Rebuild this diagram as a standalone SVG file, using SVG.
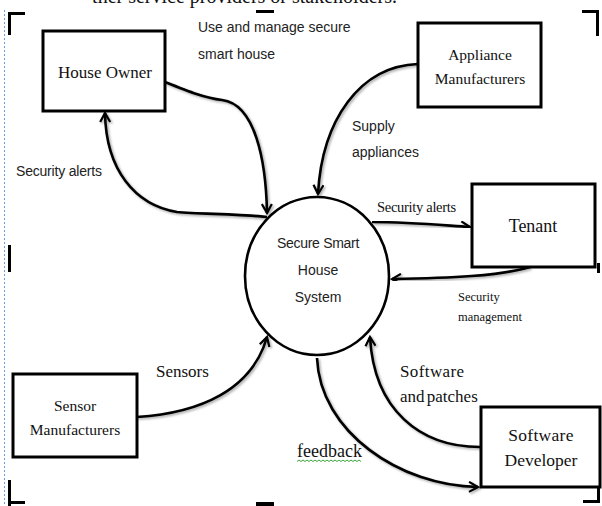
<svg xmlns="http://www.w3.org/2000/svg" width="602" height="506" viewBox="0 0 602 506">
  <style>
    .box { fill: #fff; stroke: #000; stroke-width: 3; }
    .node-label { font-family: "Liberation Serif", "Times New Roman", serif; fill: #111; text-anchor: middle; }
    .sans { font-family: "Liberation Sans", Arial, sans-serif; fill: #222; }
    .serif { font-family: "Liberation Serif", "Times New Roman", serif; fill: #111; }
    .flow { fill: none; stroke: #000; stroke-width: 2.6; filter: url(#shade); }
    .crop { fill: #000; }
  </style>
  <defs>
    <marker id="arrow" viewBox="0 0 12 12" refX="10" refY="6" markerWidth="12" markerHeight="12" markerUnits="userSpaceOnUse" orient="auto">
      <path d="M1,1 L10,6 L1,11" fill="none" stroke="#000" stroke-width="2.2"/>
    </marker>
    <filter id="shade" x="-10%" y="-10%" width="120%" height="120%">
      <feDropShadow dx="1.5" dy="1.5" stdDeviation="1.2" flood-color="#000" flood-opacity="0.35"/>
    </filter>
  </defs>

  <rect width="602" height="506" fill="#fff"/>

  <!-- page text running off the top edge -->
  <text class="serif" x="397" y="3" font-size="20" text-anchor="end">ther service providers or stakeholders.</text>

  <!-- text boundary guide -->
  <line x1="4.5" y1="10" x2="4.5" y2="506" stroke="#6a9ae6" stroke-width="1" stroke-dasharray="2,2"/>

  <!-- crop marks -->
  <g id="crop-marks">
    <rect class="crop" x="8" y="12" width="17" height="3"/>
    <rect class="crop" x="8" y="12" width="3" height="23"/>
    <rect class="crop" x="256" y="10" width="18" height="3"/>
    <rect class="crop" x="582" y="10" width="17" height="3"/>
    <rect class="crop" x="596" y="10" width="3" height="26"/>
    <rect class="crop" x="8" y="245" width="3" height="27"/>
    <rect class="crop" x="597" y="263" width="3" height="10"/>
    <rect class="crop" x="8" y="480" width="3" height="26"/>
    <rect class="crop" x="8" y="501" width="17" height="3"/>
    <rect class="crop" x="256" y="502" width="18" height="4"/>
    <rect class="crop" x="597" y="488" width="3" height="14"/>
    <rect class="crop" x="583" y="500" width="17" height="3"/>
  </g>

  <!-- connectors -->
  <g id="connectors">
    <path class="flow" d="M165,82 C190,92 205,98 222,100 C255,104 266,160 267,213" marker-end="url(#arrow)"/>
    <path class="flow" d="M267,217 C240,214 200,214 177,212 C135,205 106,170 105,113" marker-end="url(#arrow)"/>
    <path class="flow" d="M418,64 C360,66 322,120 318,194" marker-end="url(#arrow)"/>
    <path class="flow" d="M372,222 C410,222 440,225 470,227" marker-end="url(#arrow)"/>
    <path class="flow" d="M530,267 C500,276 450,278 392,279" marker-end="url(#arrow)"/>
    <path class="flow" d="M137,417 C200,413 252,390 267,337" marker-end="url(#arrow)"/>
    <path class="flow" d="M480,447 C420,447 374,410 370,337" marker-end="url(#arrow)"/>
    <path class="flow" d="M317,358 C320,432 400,486 478,487" marker-end="url(#arrow)"/>
  </g>

  <!-- connector labels -->
  <g id="labels">
    <text class="sans" x="198" y="32" font-size="14">Use and manage secure</text>
    <text class="sans" x="198" y="59" font-size="14">smart house</text>
    <text class="sans" x="352" y="131" font-size="14">Supply</text>
    <text class="sans" x="352" y="157" font-size="14">appliances</text>
    <text class="sans" x="16" y="176" font-size="14" letter-spacing="-0.2">Security alerts</text>
    <text class="serif" x="377" y="212" font-size="14.5" letter-spacing="-0.3">Security alerts</text>
    <text class="serif" x="458" y="301" font-size="12.5">Security</text>
    <text class="serif" x="458" y="321" font-size="12.5">management</text>
    <text class="serif" x="156" y="377" font-size="17">Sensors</text>
    <text class="serif" x="400" y="377" font-size="17" letter-spacing="0.4">Software</text>
    <text class="serif" x="400" y="402" font-size="17" word-spacing="-2">and patches</text>
    <text class="serif" x="297" y="457" font-size="18">feedback</text>
    <path d="M297,461.5 l2,-1.5 l2,1.5 l2,-1.5 l2,1.5 l2,-1.5 l2,1.5 l2,-1.5 l2,1.5 l2,-1.5 l2,1.5 l2,-1.5 l2,1.5 l2,-1.5 l2,1.5 l2,-1.5 l2,1.5 l2,-1.5 l2,1.5 l2,-1.5 l2,1.5 l2,-1.5 l2,1.5 l2,-1.5 l2,1.5 l2,-1.5 l2,1.5 l2,-1.5 l2,1.5 l2,-1.5 l2,1.5 l2,-1.5 l2,1.5" fill="none" stroke="#3aa53a" stroke-width="1"/>
  </g>

  <!-- nodes -->
  <g id="house-owner">
    <rect class="box" x="43" y="31" width="122" height="80"/>
    <text class="node-label" x="105" y="78" font-size="17">House Owner</text>
  </g>

  <g id="appliance-manufacturers">
    <rect class="box" x="418" y="23" width="123" height="84"/>
    <text class="node-label" x="480" y="60" font-size="15.5">Appliance</text>
    <text class="node-label" x="480" y="84" font-size="15.5">Manufacturers</text>
  </g>

  <g id="tenant">
    <rect class="box" x="472" y="184" width="123" height="83"/>
    <text class="node-label" x="533" y="232" font-size="18">Tenant</text>
  </g>

  <g id="system">
    <ellipse cx="317" cy="276" rx="72" ry="79" fill="#fff" stroke="#000" stroke-width="2.6"/>
    <text class="sans" x="318" y="248" font-size="14" text-anchor="middle" letter-spacing="-0.3">Secure Smart</text>
    <text class="sans" x="318" y="275" font-size="14" text-anchor="middle">House</text>
    <text class="sans" x="318" y="302" font-size="14" text-anchor="middle">System</text>
  </g>

  <g id="sensor-manufacturers">
    <rect class="box" x="13" y="374" width="124" height="83"/>
    <text class="node-label" x="75" y="411" font-size="15.5">Sensor</text>
    <text class="node-label" x="75" y="435" font-size="15.5">Manufacturers</text>
  </g>

  <g id="software-developer">
    <rect class="box" x="481" y="407" width="119" height="80"/>
    <text class="node-label" x="541" y="441" font-size="17.5" letter-spacing="0.3">Software</text>
    <text class="node-label" x="541" y="466" font-size="17.5">Developer</text>
  </g>
</svg>
